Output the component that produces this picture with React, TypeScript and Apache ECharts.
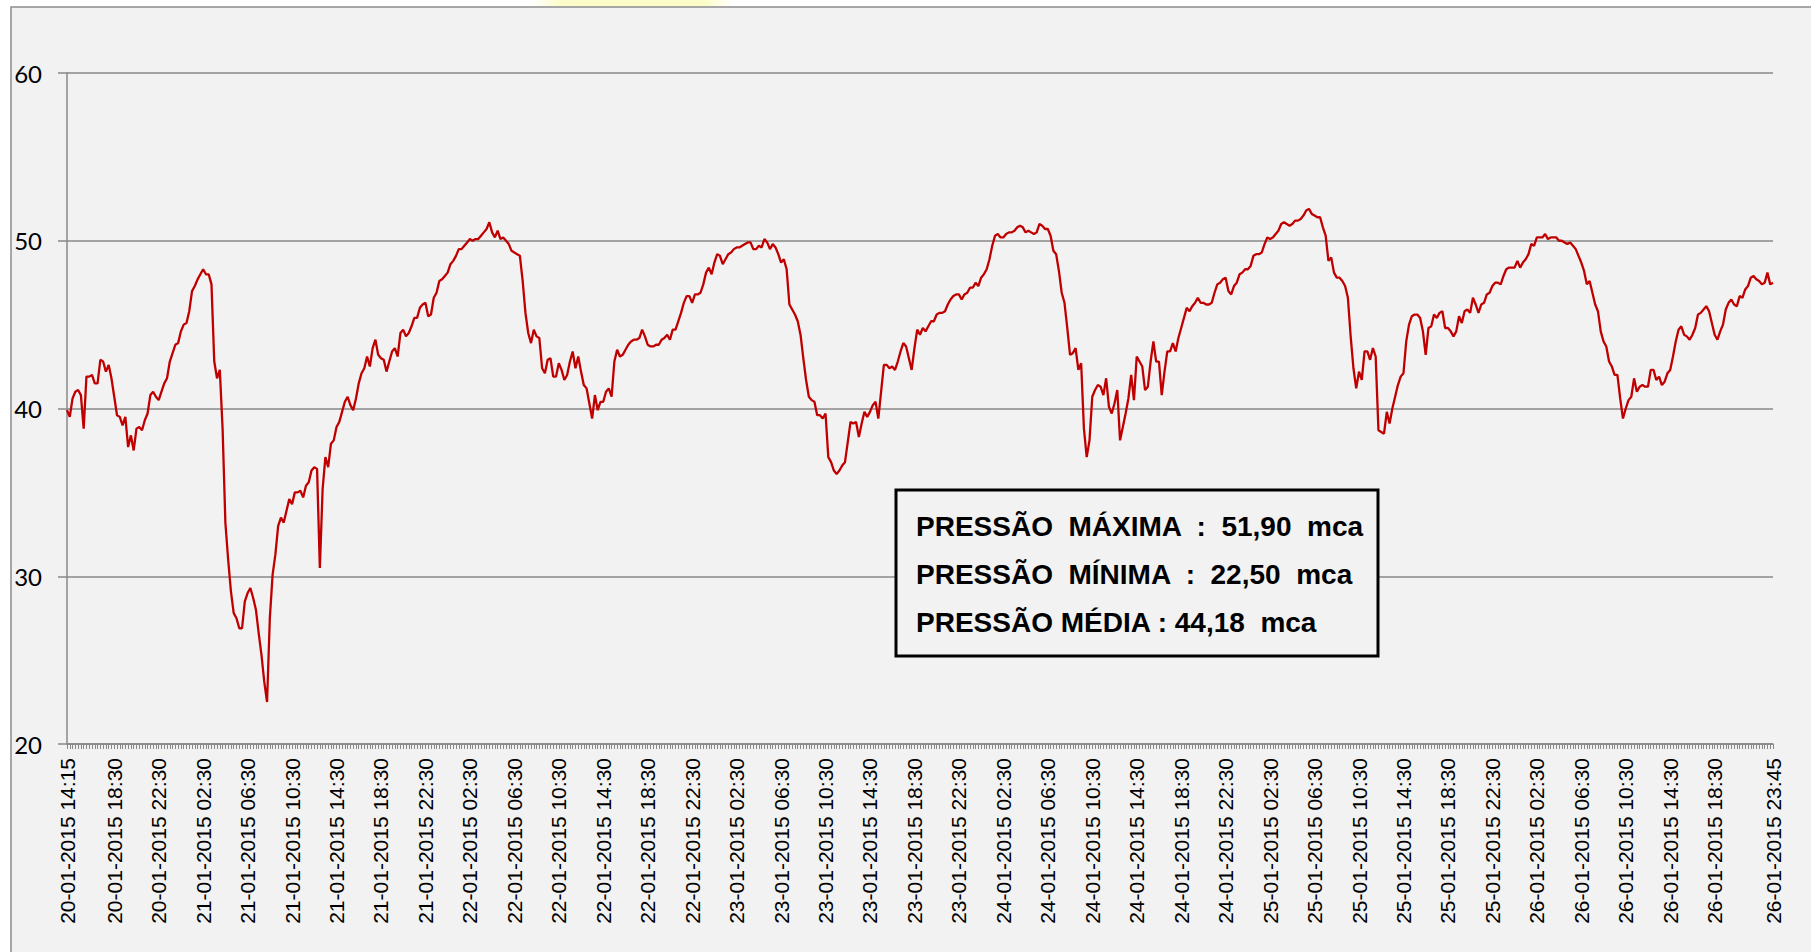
import React, { useEffect, useRef } from "react";
import * as echarts from "echarts";

// Pressure readings (mca), one every 15 minutes, from 20-01-2015 14:15 to 26-01-2015 23:45
const day20 = [
  39.9, 39.5, 40.6, 41.0, 41.1, 40.8, 38.8, 41.9, 41.9, 42.0,
  41.5, 41.5, 42.9, 42.8, 42.2, 42.6, 41.8, 40.7, 39.6, 39.5,
  39.0, 39.5, 37.7, 38.4, 37.5, 38.8, 38.9, 38.7, 39.3, 39.7,
  40.8, 41.0, 40.7, 40.5, 41.0, 41.5, 41.8, 42.8, 43.3,
];
const day21 = [
  43.8, 43.9, 44.6, 45.0, 45.1, 45.8, 47.0, 47.3, 47.7, 48.0,
  48.3, 48.0, 48.0, 47.4, 42.8, 41.8, 42.3, 38.8, 33.2, 31.0,
  29.1, 27.8, 27.5, 26.9, 26.9, 28.5, 29.0, 29.3, 28.7, 28.0,
  26.6, 25.3, 23.7, 22.5, 27.5, 30.1, 31.3, 33.0, 33.5, 33.2,
  33.9, 34.6, 34.3, 35.0, 35.0, 35.1, 34.7, 35.4, 35.6, 36.3,
  36.5, 36.4, 30.5, 35.2, 37.1, 36.5, 37.9, 38.1, 38.9, 39.2,
  39.8, 40.4, 40.7, 40.2, 39.9, 40.6, 41.5, 42.1, 42.4, 43.1,
  42.5, 43.6, 44.1, 43.2, 43.0, 42.9, 42.2, 42.8, 43.4, 43.6,
  43.1, 44.5, 44.7, 44.3, 44.5, 44.9, 45.4, 45.4, 46.0, 46.2,
  46.3, 45.5, 45.6, 46.6, 46.9, 47.6,
];
const day22 = [
  47.7, 47.9, 48.1, 48.6, 48.8, 49.1, 49.5, 49.5, 49.7, 49.9,
  50.1, 50.0, 50.1, 50.1, 50.3, 50.5, 50.7, 51.1, 50.5, 50.2,
  50.6, 50.1, 50.2, 50.0, 49.8, 49.4, 49.3, 49.2, 49.1, 47.6,
  45.7, 44.5, 43.9, 44.7, 44.3, 44.2, 42.4, 42.1, 42.9, 43.0,
  41.9, 41.9, 42.7, 42.3, 41.7, 42.0, 42.8, 43.4, 42.4, 43.1,
  42.2, 41.4, 41.2, 40.3, 39.4, 40.8, 39.9, 40.4, 40.4, 41.0,
  41.2, 40.7, 42.8, 43.5, 43.1, 43.2, 43.5, 43.8, 44.0, 44.1,
  44.1, 44.2, 44.7, 44.3, 43.8, 43.7, 43.7, 43.8, 43.8, 44.1,
  44.2, 44.4, 44.1, 44.7, 44.7, 45.2, 45.7, 46.3, 46.7, 46.7,
  46.3, 46.8, 46.8, 46.9, 47.4, 48.1,
];
const day23 = [
  48.4, 48.0, 48.7, 49.2, 49.1, 48.6, 48.9, 49.2, 49.3, 49.5,
  49.6, 49.6, 49.7, 49.8, 49.9, 49.9, 49.5, 49.5, 49.7, 49.6,
  50.1, 49.9, 49.5, 49.8, 49.6, 49.2, 48.7, 48.9, 48.3, 46.2,
  45.9, 45.6, 45.2, 44.4, 43.0, 41.7, 40.7, 40.5, 40.4, 39.6,
  39.6, 39.4, 39.7, 37.1, 36.8, 36.3, 36.1, 36.3, 36.6, 36.8,
  38.0, 39.2, 39.1, 39.2, 38.3, 39.1, 39.8, 39.5, 39.8, 40.2,
  40.4, 39.4, 41.0, 42.6, 42.6, 42.4, 42.5, 42.3, 42.8, 43.4,
  43.9, 43.7, 43.0, 42.3, 43.6, 44.7, 44.4, 44.8, 44.6, 44.9,
  45.2, 45.2, 45.6, 45.7, 45.7, 45.8, 46.2, 46.5, 46.7, 46.8,
  46.8, 46.5, 46.8, 46.9, 47.2, 47.2,
];
const day24 = [
  47.5, 47.3, 47.8, 48.0, 48.3, 48.9, 49.7, 50.3, 50.4, 50.2,
  50.2, 50.4, 50.5, 50.5, 50.6, 50.8, 50.9, 50.8, 50.5, 50.6,
  50.5, 50.4, 50.5, 51.0, 50.9, 50.7, 50.7, 50.3, 49.4, 49.2,
  48.2, 46.9, 46.3, 44.8, 43.2, 43.3, 43.6, 42.3, 42.7, 38.8,
  37.1, 38.1, 40.7, 41.1, 41.4, 41.3, 40.8, 41.8, 40.1, 39.7,
  40.3, 41.1, 38.1, 38.9, 39.7, 40.6, 42.0, 40.5, 43.1, 42.8,
  42.5, 41.1, 41.3, 42.8, 44.0, 42.8, 42.8, 40.8, 42.2, 43.4,
  43.4, 43.9, 43.4, 44.2, 44.8, 45.4, 46.0, 45.8, 46.1, 46.3,
  46.6, 46.3, 46.3, 46.2, 46.2, 46.3, 46.9, 47.4, 47.5, 47.7,
  47.8, 47.0, 46.8, 47.3, 47.5, 48.0,
];
const day25 = [
  48.1, 48.3, 48.3, 48.5, 49.1, 49.2, 49.2, 49.3, 49.8, 50.2,
  50.1, 50.2, 50.4, 50.6, 51.0, 51.1, 51.0, 50.9, 51.0, 51.2,
  51.2, 51.3, 51.5, 51.8, 51.9, 51.6, 51.5, 51.4, 51.4, 50.8,
  50.3, 48.8, 49.0, 48.1, 47.8, 47.8, 47.6, 47.3, 46.6, 44.3,
  42.4, 41.2, 42.2, 41.7, 43.4, 43.4, 42.9, 43.6, 43.1, 38.7,
  38.6, 38.5, 39.8, 39.1, 40.0, 40.7, 41.4, 41.9, 42.1, 44.0,
  45.0, 45.5, 45.6, 45.6, 45.4, 44.6, 43.2, 44.8, 44.9, 45.6,
  45.4, 45.7, 45.8, 44.8, 44.8, 44.6, 44.3, 44.6, 45.5, 45.1,
  45.8, 45.9, 45.7, 46.6, 46.2, 45.7, 46.2, 46.3, 46.8, 46.9,
  47.3, 47.5, 47.5, 47.4, 47.9, 48.3,
];
const day26 = [
  48.4, 48.4, 48.4, 48.8, 48.4, 48.7, 48.9, 49.2, 49.8, 49.7,
  50.2, 50.2, 50.2, 50.4, 50.1, 50.2, 50.2, 50.2, 50.0, 50.0,
  49.9, 49.8, 49.9, 49.7, 49.5, 49.1, 48.7, 48.2, 47.4, 47.6,
  46.9, 46.2, 45.8, 44.6, 44.0, 43.7, 42.8, 42.5, 42.0, 42.0,
  40.6, 39.4, 40.0, 40.5, 40.7, 41.8, 41.0, 41.3, 41.4, 41.3,
  41.3, 42.3, 42.3, 41.7, 41.9, 41.4, 41.6, 42.1, 42.3, 43.1,
  44.0, 44.7, 44.9, 44.4, 44.3, 44.1, 44.4, 44.8, 45.6, 45.7,
  45.9, 46.1, 45.8, 45.1, 44.4, 44.1, 44.6, 45.0, 45.9, 46.3,
  46.5, 46.2, 46.1, 46.7, 46.6, 47.1, 47.3, 47.8, 47.9, 47.7,
  47.6, 47.4, 47.5, 48.1, 47.4, 47.5,
];

const pressure = [...day20, ...day21, ...day22, ...day23, ...day24, ...day25, ...day26];

// Category labels: timestamps every 15 minutes
const startUTC = Date.UTC(2015, 0, 20, 14, 15);
const pad = (n: number) => String(n).padStart(2, "0");
const categories = pressure.map((_, i) => {
  const d = new Date(startUTC + i * 15 * 60000);
  return `${pad(d.getUTCDate())}-${pad(d.getUTCMonth() + 1)}-${d.getUTCFullYear()} ${pad(d.getUTCHours())}:${pad(d.getUTCMinutes())}`;
});

// Tick labels shown on the x axis
const shownLabels = [
  "20-01-2015 14:15", "20-01-2015 18:30", "20-01-2015 22:30",
  "21-01-2015 02:30", "21-01-2015 06:30", "21-01-2015 10:30", "21-01-2015 14:30", "21-01-2015 18:30", "21-01-2015 22:30",
  "22-01-2015 02:30", "22-01-2015 06:30", "22-01-2015 10:30", "22-01-2015 14:30", "22-01-2015 18:30", "22-01-2015 22:30",
  "23-01-2015 02:30", "23-01-2015 06:30", "23-01-2015 10:30", "23-01-2015 14:30", "23-01-2015 18:30", "23-01-2015 22:30",
  "24-01-2015 02:30", "24-01-2015 06:30", "24-01-2015 10:30", "24-01-2015 14:30", "24-01-2015 18:30", "24-01-2015 22:30",
  "25-01-2015 02:30", "25-01-2015 06:30", "25-01-2015 10:30", "25-01-2015 14:30", "25-01-2015 18:30", "25-01-2015 22:30",
  "26-01-2015 02:30", "26-01-2015 06:30", "26-01-2015 10:30", "26-01-2015 14:30", "26-01-2015 18:30", "26-01-2015 23:45",
];
const shownSet = new Set(shownLabels);

const infoLines = [
  "PRESSÃO  MÁXIMA  :  51,90  mca",
  "PRESSÃO  MÍNIMA  :  22,50  mca",
  "PRESSÃO MÉDIA : 44,18  mca",
];

export default function App() {
  const ref = useRef<HTMLDivElement>(null);
  useEffect(() => {
    if (!ref.current) return;
    const chart = echarts.init(ref.current, undefined, { renderer: "svg" });
    const gray = "#888888";
    chart.setOption({
      animation: false,
      backgroundColor: "transparent",
      grid: { left: 67, top: 73, right: 38, bottom: 208, containLabel: false },
      xAxis: {
        type: "category",
        data: categories,
        boundaryGap: false,
        axisLine: { show: true, lineStyle: { color: gray, width: 1.5 } },
        axisTick: { show: true, interval: 0, length: 5, lineStyle: { color: gray, width: 1 } },
        axisLabel: {
          interval: (_i: number, v: string) => shownSet.has(v),
          rotate: 90,
          margin: 14,
          fontFamily: '"Liberation Sans", Arial, sans-serif',
          fontSize: 21,
          color: "#000",
        },
        splitLine: { show: false },
      },
      yAxis: {
        type: "value",
        min: 20,
        max: 60,
        interval: 10,
        axisLine: { show: true, lineStyle: { color: gray, width: 1.5 } },
        axisTick: { show: true, length: 9, lineStyle: { color: gray, width: 1.5 } },
        axisLabel: { margin: 25, fontFamily: "Lato, sans-serif", fontSize: 24, color: "#000" },
        splitLine: { show: true, lineStyle: { color: gray, width: 1.5 } },
      },
      series: [
        {
          type: "line",
          data: pressure,
          symbol: "none",
          showSymbol: false,
          lineStyle: { color: "#c00000", width: 2.3 },
          z: 3,
        },
      ],
      graphic: [
        {
          type: "rect",
          z: -100,
          silent: true,
          shape: { x: 11, y: 7, width: 1810, height: 960 },
          style: { fill: "#f2f2f2", stroke: "#8c8c8c", lineWidth: 1.5 },
        },
        {
          type: "rect",
          z: -99,
          silent: true,
          shape: { x: 532, y: 0, width: 202, height: 6 },
          style: {
            fill: new echarts.graphic.LinearGradient(0, 0, 1, 0, [
              { offset: 0, color: "rgba(252,252,200,0)" },
              { offset: 0.15, color: "rgba(252,252,200,1)" },
              { offset: 0.85, color: "rgba(252,252,200,1)" },
              { offset: 1, color: "rgba(252,252,200,0)" },
            ]),
          },
        },
        {
          type: "rect",
          z: 100,
          silent: true,
          shape: { x: 896, y: 490, width: 482, height: 166 },
          style: { fill: "#f2f2f2", stroke: "#000", lineWidth: 3 },
        },
        ...infoLines.map((t, k) => ({
          type: "text",
          z: 101,
          silent: true,
          x: 916,
          y: 526 + k * 48,
          style: {
            text: t,
            fill: "#000",
            font: 'bold 28px "Liberation Sans", Arial, sans-serif',
            verticalAlign: "middle",
            align: "left",
          },
        })),
      ],
    });
    return () => chart.dispose();
  }, []);
  return (
    <div style={{ position: "absolute", left: 0, top: 0, width: 1811, height: 952, background: "#fff" }}>
      <div ref={ref} style={{ width: 1811, height: 952 }} />
    </div>
  );
}
